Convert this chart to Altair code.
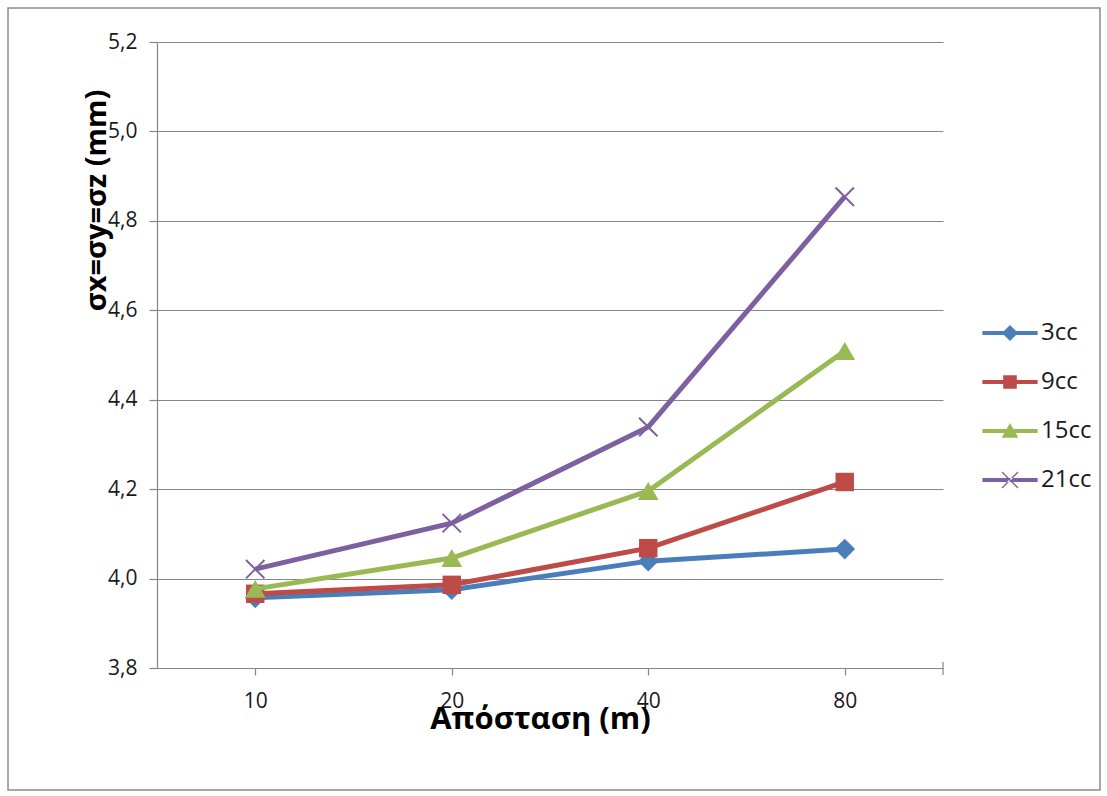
import altair as alt
import pandas as pd

distances = ["10", "20", "40", "80"]
series_names = ["3cc", "9cc", "15cc", "21cc"]
values_3cc = [3.957, 3.975, 4.039, 4.066]
values_9cc = [3.966, 3.986, 4.068, 4.216]
values_15cc = [3.977, 4.046, 4.196, 4.509]
values_21cc = [4.021, 4.124, 4.339, 4.854]
y_ticks = [3.8, 4.0, 4.2, 4.4, 4.6, 4.8, 5.0, 5.2]

colors = ["#4A7EBB", "#BE4B48", "#98B954", "#7D60A0"]
plot_shapes = ["diamond", "square", "triangle-up", "M-1,-1L1,1M-1,1L1,-1"]
LINE = "M-3.45,-0.26H3.45V0.26H-3.45Z"
legend_paths = [
    LINE + " M0,-1L1,0L0,1L-1,0Z",
    LINE + " M-0.85,-0.85H0.85V0.85H-0.85Z",
    LINE + " M0,-1L1.05,0.85H-1.05Z",
    LINE + " M-0.94,-1.06L1.06,0.94L0.94,1.06L-1.06,-0.94Z M-0.94,1.06L1.06,-0.94L0.94,-1.06L-1.06,0.94Z",
]

all_values = [values_3cc, values_9cc, values_15cc, values_21cc]
rows = []
for name, vals in zip(series_names, all_values):
    for d, v in zip(distances, vals):
        rows.append({"dist": d, "value": v, "series": name})
df = pd.DataFrame(rows)

FONT = "Open Sans"
W, H = 786, 626

x_enc = alt.X(
    "dist:N",
    sort=distances,
    scale=alt.Scale(paddingInner=0, paddingOuter=0),
    axis=alt.Axis(
        title="Απόσταση (m)",
        labelAngle=0,
        labelFontSize=21,
        labelPadding=15,
        tickSize=7,
        titleFontSize=31,
        titleFontWeight="bold",
        titleX=383,
        titleY=51,
        titleBaseline="middle",
        grid=False,
    ),
)
y_enc = alt.Y(
    "value:Q",
    scale=alt.Scale(domain=[3.8, 5.2], nice=False, zero=False),
    axis=alt.Axis(
        title="σx=σy=σz (mm)",
        values=y_ticks,
        labelExpr="replace(format(datum.value, '.1f'), '.', ',')",
        labelFontSize=21,
        labelPadding=12,
        tickSize=8,
        titleFontSize=29,
        titleFontWeight="bold",
        titleX=-61,
        titleY=158,
        titleAngle=270,
        titleAlign="center",
        titleBaseline="middle",
        grid=True,
    ),
)
color_scale = alt.Scale(domain=series_names, range=colors)

base = alt.Chart(df)
layers = []

frame = alt.Chart(alt.Data(values=[{"a": 1}])).mark_rect(
    fill=None, stroke="#8C8C8C", strokeWidth=1.5
).encode(
    x=alt.value(-149), x2=alt.value(943), y=alt.value(-34), y2=alt.value(748)
)
layers.append(frame)

marker_sizes = [430, 340, 430, 340]
for i, name in enumerate(series_names):
    sub = base.transform_filter(alt.datum.series == name)
    line = sub.mark_line(strokeWidth=5, color=colors[i]).encode(x=x_enc, y=y_enc)
    layers.append(line)
    if i < 3:
        pts = sub.mark_point(
            filled=True, opacity=1, size=marker_sizes[i], strokeWidth=0,
            shape=plot_shapes[i], color=colors[i],
        ).encode(x=x_enc, y=y_enc)
    else:
        pts = sub.mark_point(
            filled=False, opacity=1, size=marker_sizes[i], strokeWidth=2,
            shape=plot_shapes[i], color=colors[i],
        ).encode(x=x_enc, y=y_enc)
    layers.append(pts)

end_tick = alt.Chart(alt.Data(values=[{"a": 1}])).mark_rule(
    color="#868686", strokeWidth=1.2
).encode(x=alt.value(W), y=alt.value(H - 6), y2=alt.value(H + 7))
layers.append(end_tick)

leg_props = dict(
    title=None,
    orient="none",
    legendX=841,
    legendY=279,
    symbolSize=256,
    labelFontSize=24,
    labelOffset=19,
    rowPadding=25,
    padding=0,
    symbolStrokeWidth=0,
    labelFont=FONT,
    labelColor="#1a1a1a",
)
legend_layer = base.transform_filter("false").mark_point(
    filled=True, opacity=1, strokeWidth=0
).encode(
    color=alt.Color("series:N", scale=color_scale, legend=alt.Legend(**leg_props)),
    shape=alt.Shape(
        "series:N",
        scale=alt.Scale(domain=series_names, range=legend_paths),
        legend=alt.Legend(**leg_props),
    ),
)
layers.append(legend_layer)

chart = alt.layer(*layers).properties(
    width=W,
    height=H,
    padding={"left": 157, "top": 42, "right": 164, "bottom": 128},
    autosize=alt.AutoSizeParams(type="none"),
    background="white",
).configure_view(stroke=None).configure_axis(
    labelFont=FONT,
    titleFont=FONT,
    labelColor="#1a1a1a",
    titleColor="#000000",
    gridColor="#868686",
    gridWidth=1,
    domainColor="#868686",
    domainWidth=1.2,
    tickColor="#868686",
    tickWidth=1.2,
)

chart.save("out.html", embed_options={"renderer": "svg", "actions": False})
